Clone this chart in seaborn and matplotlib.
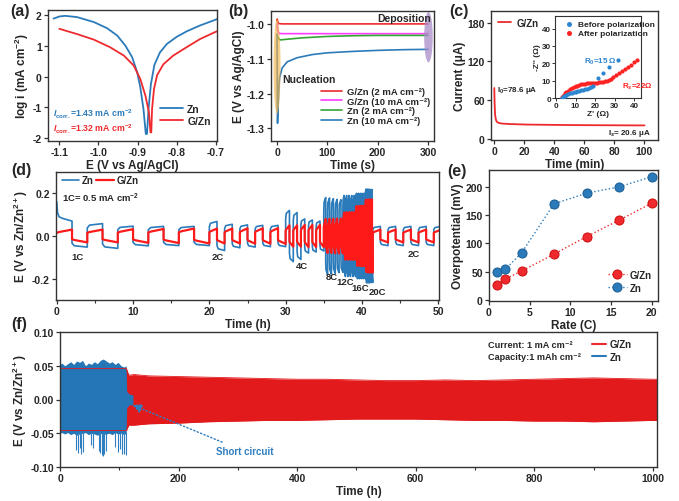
import numpy as np
import matplotlib
matplotlib.use('Agg')
import matplotlib.pyplot as plt
import seaborn as sns
from matplotlib.patches import Ellipse
from matplotlib.lines import Line2D
from matplotlib.ticker import AutoMinorLocator, FormatStrFormatter

sns.set_theme(style='ticks')
plt.rcParams['font.family'] = ['Liberation Sans', 'DejaVu Sans']
plt.rcParams['font.weight'] = 'bold'
plt.rcParams['axes.labelweight'] = 'bold'
plt.rcParams['axes.unicode_minus'] = False
plt.rcParams['mathtext.fontset'] = 'custom'
plt.rcParams['mathtext.rm'] = 'Liberation Sans:bold'
plt.rcParams['mathtext.it'] = 'Liberation Sans:bold:italic'
plt.rcParams['mathtext.bf'] = 'Liberation Sans:bold'

BLUE = '#2b7bba'
RED = '#ee2a2e'
RED_F = '#e31a1c'
PINK = '#ff3cff'
GREEN = '#33a633'

# ---------------- (a) Tafel ----------------
a_zn_E = [-1.115, -1.100, -1.085, -1.055, -1.012, -0.978, -0.952, -0.931, -0.914, -0.901,
          -0.893, -0.885, -0.879, -0.876, -0.872, -0.866, -0.857, -0.843, -0.825, -0.800,
          -0.774, -0.740, -0.706, -0.696]
a_zn_logi = [1.88, 1.95, 1.97, 1.93, 1.77, 1.57, 1.33, 1.00, 0.63, 0.14,
             -0.35, -1.05, -1.86, -1.86, -1.05, -0.25, 0.38, 0.78, 1.06, 1.29,
             1.47, 1.66, 1.82, 1.87]
a_gzn_E = [-1.100, -1.055, -1.012, -0.970, -0.935, -0.910, -0.893, -0.880, -0.871, -0.867,
           -0.865, -0.863, -0.858, -0.850, -0.834, -0.809, -0.775, -0.740, -0.706, -0.697]
a_gzn_logi = [1.55, 1.38, 1.20, 0.95, 0.68, 0.36, -0.08, -0.62, -1.16, -1.81,
              -1.81, -1.05, -0.40, 0.05, 0.40, 0.68, 0.95, 1.22, 1.42, 1.47]

# ---------------- (b) chronopotentiometry ----------------
b_gzn2_t = [0, 0.5, 1.5, 3, 10, 100, 200, 300]
b_gzn2_E = [-0.992, -0.986, -0.995, -0.999, -1.000, -1.000, -1.000, -1.000]
b_gzn10_t = [0, 1, 2, 4, 10, 100, 200, 300]
b_gzn10_E = [-1.000, -1.012, -1.022, -1.027, -1.028, -1.028, -1.028, -1.028]
b_zn2_t = [0, 1, 3, 6, 20, 50, 100, 150, 200, 300]
b_zn2_E = [-1.030, -1.036, -1.042, -1.046, -1.044, -1.040, -1.036, -1.034, -1.033, -1.033]
b_zn10_t = [0, 0.5, 1, 2, 3, 5, 10, 20, 40, 70, 100, 150, 200, 250, 300]
b_zn10_E = [-1.030, -1.200, -1.285, -1.240, -1.200, -1.155, -1.127, -1.109, -1.097, -1.088,
            -1.083, -1.079, -1.076, -1.074, -1.073]

# ---------------- (c) current-time + EIS ----------------
c_t = [0, 0.2, 0.5, 1, 1.5, 2, 3, 5, 10, 20, 30, 40, 50, 60, 70, 80, 90, 100]
c_I = [78.6, 55, 38, 30, 27, 25.5, 24.5, 23.5, 22.8, 22.0, 21.7, 21.4, 21.2, 21.0, 20.9, 20.8, 20.7, 20.6]
c_before_x = [3, 3.5, 4, 4.5, 5, 6, 7, 8, 9, 10, 11, 12, 13, 14, 15, 16, 17, 18, 19, 21.3, 24, 27.3, 31.5]
c_before_y = [0.2, 0.7, 1.1, 1.4, 1.7, 2.2, 2.6, 2.9, 3.2, 3.5, 3.8, 4.1, 4.4, 4.7, 5.0, 5.4, 5.8, 6.3, 6.9,
              11.5, 14.5, 18.0, 22.0]
c_after_x = [3, 3.5, 4, 4.5, 5, 6, 7, 8, 9, 10, 11, 12, 13, 14, 15, 16, 17, 18, 19, 20, 21, 22, 23, 24,
             25, 26, 27, 28, 29.3, 30.8, 32.3, 33.8, 35.3, 36.8, 38.3, 39.8, 41.2]
c_after_y = [0.3, 1.2, 2.0, 2.7, 3.3, 4.2, 5.0, 5.7, 6.3, 6.8, 7.2, 7.6, 7.9, 8.1, 8.3, 8.5, 8.6, 8.7, 8.8,
             8.8, 8.9, 9.0, 9.1, 9.3, 9.6, 10.0, 10.5, 11.2, 12.2, 13.3, 14.4, 15.6, 16.8, 18.0, 19.3,
             20.5, 21.8]

# ---------------- (d) rate performance ----------------
d_rates = [1, 2, 4, 8, 12, 16, 20, 2]
d_zn_peaks = [
    [0.052, 0.058, 0.046, 0.045, 0.045],
    [0.068, 0.055, 0.052, 0.050, 0.050],
    [0.120, 0.110, 0.080, 0.075, 0.070],
    [0.180, 0.178, 0.175, 0.172, 0.170],
    [0.190, 0.190, 0.190, 0.190, 0.190],
    [0.200, 0.200, 0.200, 0.200, 0.200],
    [0.220, 0.220, 0.220, 0.218, 0.218],
    [0.045, 0.045, 0.045, 0.045, 0.045],
]
d_gzn_peaks = [
    [0.030, 0.030, 0.032, 0.033, 0.035],
    [0.035, 0.035, 0.036, 0.036, 0.037],
    [0.050, 0.050, 0.052, 0.052, 0.052],
    [0.080, 0.080, 0.081, 0.082, 0.082],
    [0.110, 0.111, 0.112, 0.112, 0.112],
    [0.140, 0.140, 0.141, 0.141, 0.141],
    [0.170, 0.170, 0.171, 0.171, 0.171],
    [0.030, 0.030, 0.030, 0.030, 0.030],
]
d_zn_init_t = [0, 0.1, 0.3, 0.8, 1.4, 2.0]
d_zn_init_E = [0.16, 0.11, 0.09, 0.082, 0.076, 0.070]
d_label_text = ['1C', '2C', '4C', '8C', '12C', '16C', '20C', '2C']
d_label_t = [1.9, 20.3, 31.3, 35.2, 36.6, 38.6, 40.9, 46.0]
d_label_E = [-0.098, -0.098, -0.14, -0.19, -0.212, -0.24, -0.262, -0.08]

# ---------------- (e) overpotential vs rate ----------------
e_rate = [1, 2, 4, 8, 12, 16, 20]
e_gzn = [27, 37, 51, 81, 112, 141, 171]
e_zn = [50, 54, 83, 170, 189, 200, 218]

# ---------------- (f) long-term cycling envelopes ----------------
f_gzn_t = [0, 112, 116, 125, 150, 200, 250, 300, 350, 400, 450, 500, 550, 600, 650, 700, 750,
           800, 850, 900, 950, 1000, 1007]
f_gzn_hi = [0.046, 0.046, 0.036, 0.037, 0.035, 0.034, 0.033, 0.032, 0.031, 0.030, 0.030, 0.029,
            0.028, 0.028, 0.029, 0.028, 0.029, 0.030, 0.031, 0.032, 0.031, 0.030, 0.030]
f_gzn_lo = [-0.046, -0.046, -0.038, -0.038, -0.036, -0.035, -0.033, -0.032, -0.031, -0.031,
            -0.030, -0.029, -0.029, -0.029, -0.030, -0.031, -0.031, -0.032, -0.032, -0.033,
            -0.032, -0.031, -0.031]
f_zn_t = [0, 3, 8, 13, 18, 23, 28, 33, 38, 43, 48, 53, 58, 63, 68, 73, 78, 83, 88, 93, 98, 103,
          108, 111.5, 112.5, 117, 123]
f_zn_hi = [0.052, 0.054, 0.050, 0.053, 0.056, 0.052, 0.057, 0.055, 0.058, 0.050, 0.054, 0.052,
           0.056, 0.053, 0.058, 0.060, 0.057, 0.054, 0.056, 0.052, 0.055, 0.050, 0.048, 0.050,
           0.012, 0.008, 0.007]
f_zn_lo = [-0.050, -0.049, -0.051, -0.049, -0.052, -0.050, -0.053, -0.051, -0.050, -0.049,
           -0.052, -0.050, -0.051, -0.053, -0.050, -0.052, -0.051, -0.050, -0.052, -0.049,
           -0.051, -0.050, -0.052, -0.050, -0.012, -0.008, -0.008]
f_spike_t = [27, 30, 33, 36, 38, 53, 56, 65, 68, 71, 73, 75, 78, 93, 97, 101, 104, 108, 111]
f_spike_E = [-0.075, -0.079, -0.072, -0.080, -0.078, -0.068, -0.072, -0.076, -0.079, -0.082,
             -0.083, -0.080, -0.077, -0.070, -0.078, -0.074, -0.080, -0.081, -0.082]

# ======================================================================
W, H = 679, 502
fig = plt.figure(figsize=(W / 100, H / 100), dpi=100)
fig.patch.set_facecolor('white')

TICK = 7.5
LAB = 8.5
LEG = 6.8


def add_ax(l, t, r, b):
    ax = fig.add_axes([l / W, 1 - b / H, (r - l) / W, (b - t) / H])
    for s in ax.spines.values():
        s.set_color('#333333')
        s.set_linewidth(1.0)
    ax.tick_params(direction='out', length=3, width=0.9, labelsize=TICK, pad=1.5, color='#333333')
    return ax


def bold_ticks(ax, size=TICK):
    for lab in ax.get_xticklabels() + ax.get_yticklabels():
        lab.set_fontweight('bold')
        lab.set_fontsize(size)


def line(ax, x, y, color, lw=1.3, label=None, **kw):
    sns.lineplot(x=x, y=y, ax=ax, sort=False, estimator=None, color=color, lw=lw, label=label, **kw)


# ---------------- (a) ----------------
axa = add_ax(48, 11, 217, 142)
line(axa, a_zn_E, a_zn_logi, BLUE, label='Zn')
line(axa, a_gzn_E, a_gzn_logi, RED, label='G/Zn')
axa.set_xlim(-1.129, -0.697)
axa.set_ylim(-2.09, 2.16)
axa.set_xticks([-1.1, -1.0, -0.9, -0.8, -0.7])
axa.xaxis.set_major_formatter(FormatStrFormatter('%.1f'))
axa.set_yticks([-2, -1, 0, 1, 2])
axa.set_xlabel('E (V vs Ag/AgCl)', fontsize=LAB, labelpad=1)
axa.set_ylabel('log i (mA cm$^{-2}$)', fontsize=LAB, labelpad=1)
axa.text(-1.117, -1.20, r'$\mathit{I}_{\mathrm{corr.}}$=1.43 mA cm$^{-2}$', color=BLUE,
         fontsize=6.3, va='center')
axa.text(-1.117, -1.68, r'$\mathit{I}_{\mathrm{corr.}}$=1.32 mA cm$^{-2}$', color=RED,
         fontsize=6.3, va='center')
axa.legend(loc='lower right', bbox_to_anchor=(1.0, 0.07), frameon=False, fontsize=7.5,
           handlelength=2.2, handletextpad=0.4, labelspacing=0.15, borderaxespad=0.2)
bold_ticks(axa)

# ---------------- (b) ----------------
axb = add_ax(271, 12, 434, 142)
line(axb, b_gzn2_t, b_gzn2_E, RED, lw=1.2, label='G/Zn (2 mA cm⁻²)')
line(axb, b_gzn10_t, b_gzn10_E, PINK, lw=1.2, label='G/Zn (10 mA cm⁻²)')
line(axb, b_zn2_t, b_zn2_E, GREEN, lw=1.2, label='Zn (2 mA cm⁻²)')
line(axb, b_zn10_t, b_zn10_E, BLUE, lw=1.2, label='Zn (10 mA cm⁻²)')
axb.add_patch(Ellipse((0, -1.122), 14, 0.272, facecolor='#f2b34a', alpha=0.65, lw=0, zorder=3))
axb.add_patch(Ellipse((301, -1.038), 17, 0.145, facecolor='#a98bc9', alpha=0.75, lw=0, zorder=3))
axb.set_xlim(-12, 312)
axb.set_ylim(-1.336, -0.963)
axb.set_xticks([0, 100, 200, 300])
axb.set_yticks([-1.3, -1.2, -1.1, -1.0])
axb.yaxis.set_major_formatter(FormatStrFormatter('%.1f'))
axb.set_xlabel('Time (s)', fontsize=LAB, labelpad=1)
axb.set_ylabel('E (V vs Ag/AgCl)', fontsize=LAB, labelpad=1)
axb.text(252, -0.982, 'Deposition', fontsize=7.5, ha='center', va='center')
axb.text(64, -1.158, 'Nucleation', fontsize=7.5, ha='center', va='center')
axb.legend(loc='lower right', bbox_to_anchor=(1.01, 0.08), frameon=False, fontsize=LEG,
           handlelength=2.2, handletextpad=0.5, labelspacing=0.06, borderaxespad=0.2)
bold_ticks(axb)

# ---------------- (c) ----------------
axc = add_ax(491, 12, 658, 141)
line(axc, c_t, c_I, RED, lw=1.3, label='G/Zn')
axc.set_xlim(-2.2, 109)
axc.set_ylim(-2, 198)
axc.set_xticks([0, 20, 40, 60, 80, 100])
axc.set_yticks([0, 60, 120, 180])
axc.set_xlabel('Time (min)', fontsize=LAB, labelpad=1)
axc.set_ylabel('Current (μA)', fontsize=LAB, labelpad=1)
axc.text(2, 77, 'I$_0$=78.6 μA', fontsize=5.8, va='center')
axc.text(104, 9, 'I$_s$= 20.6 μA', fontsize=5.8, va='center', ha='right')
axc.legend(loc='upper left', bbox_to_anchor=(0.0, 1.0), frameon=False, fontsize=7,
           handlelength=1.4, handletextpad=0.5, borderaxespad=0.3)
bold_ticks(axc)

axi = fig.add_axes([555 / W, 1 - 99 / H, 86 / W, 82 / H])
for s in axi.spines.values():
    s.set_color('#333333')
    s.set_linewidth(0.8)
sns.scatterplot(x=c_before_x, y=c_before_y, ax=axi, color='#2f86d0', s=9, linewidth=0,
                label='Before polarization', zorder=3)
sns.scatterplot(x=c_after_x, y=c_after_y, ax=axi, color='#ff2222', s=9, linewidth=0,
                label='After polarization', zorder=2)
axi.set_xlim(-0.5, 43.5)
axi.set_ylim(0, 47.3)
axi.set_xticks([0, 10, 20, 30, 40])
axi.set_yticks([0, 10, 20, 30, 40])
axi.tick_params(direction='out', length=2, width=0.7, labelsize=5.8, pad=1, color='#333333')
axi.set_xlabel("Z' (Ω)", fontsize=6, labelpad=0.5)
axi.set_ylabel("-Z'' (Ω)", fontsize=6, labelpad=0.5)
axi.text(14.2, 21.2, 'R$_0$=15 Ω', color='#2f86d0', fontsize=5.8, va='center')
axi.text(34.0, 6.9, 'R$_s$=22Ω', color='#ff2222', fontsize=5.8, va='center')
axi.legend(loc='upper left', bbox_to_anchor=(0.02, 1.0), frameon=False, fontsize=6,
           handletextpad=0.1, labelspacing=0.15, borderaxespad=0.1, markerscale=1.2)
bold_ticks(axi, 5.8)


# ---------------- (d) ----------------
def square_wave(rates, peaks, start_frac, knee_frac, init_t=None, init_E=None):
    ts, vs = [], []
    t = 0.0
    first = True
    for rate, cyc in zip(rates, peaks):
        half = 2.0 / rate
        for p in cyc:
            for sign in (1, -1):
                t0, t1 = t, t + half
                if first and init_t is not None:
                    ts += list(init_t)
                    vs += list(init_E)
                else:
                    ts += [t0, t0 + 0.15 * half, t1]
                    vs += [sign * start_frac * p, sign * knee_frac * p, sign * p]
                first = False
                t = t1
    ts = np.array(ts)
    vs = np.array(vs)
    keep = ts <= 50.5
    return ts[keep], vs[keep]


axd = add_ax(56, 173, 439, 301)
zt, zv = square_wave(d_rates, d_zn_peaks, 0.65, 0.88, d_zn_init_t, d_zn_init_E)
gt, gv = square_wave(d_rates, d_gzn_peaks, 0.5, 0.62)
line(axd, zt, zv, BLUE, lw=1.2, label='Zn')
line(axd, gt, gv, '#ff1a1a', lw=1.6, label='G/Zn')
# dense high-rate cycling merges into a solid band
seg_start = 0.0
for rate, cyc in zip(d_rates, d_gzn_peaks):
    seg_end = seg_start + len(cyc) * 4.0 / rate
    if rate >= 8:
        p_in = 0.6 * min(cyc)
        axd.fill_between([seg_start, seg_end], [-p_in, -p_in], [p_in, p_in],
                         color='#ff1a1a', lw=0, zorder=2.5)
    seg_start = seg_end
axd.set_xlim(-0.1, 50.1)
axd.set_ylim(-0.3, 0.3)
axd.set_xticks([0, 10, 20, 30, 40, 50])
axd.xaxis.set_minor_locator(AutoMinorLocator(2))
axd.tick_params(which='minor', direction='out', length=2, width=0.8, color='#333333')
axd.set_yticks([-0.2, 0.0, 0.2])
axd.yaxis.set_major_formatter(FormatStrFormatter('%.1f'))
axd.set_xlabel('Time (h)', fontsize=LAB, labelpad=1)
axd.set_ylabel('E (V vs Zn/Zn$^{2+}$)', fontsize=LAB, labelpad=1)
for txt, tx, ty in zip(d_label_text, d_label_t, d_label_E):
    axd.text(tx, ty, txt, fontsize=6.8, ha='left', va='center')
axd.text(0.016, 0.80, '1C= 0.5 mA cm$^{-2}$', transform=axd.transAxes, fontsize=6.8, va='center')
axd.legend(loc='upper left', bbox_to_anchor=(0.0, 1.02), frameon=False, fontsize=7, ncol=2,
           handlelength=1.8, handletextpad=0.3, columnspacing=0.2, borderaxespad=0.2)
bold_ticks(axd)

# ---------------- (e) ----------------
axe = add_ax(489, 171, 658, 302)
sns.lineplot(x=e_rate, y=e_gzn, ax=axe, color=RED, lw=1.0, linestyle=':', marker='o',
             markersize=6.5, markeredgecolor='#d01010', label='G/Zn')
sns.lineplot(x=e_rate, y=e_zn, ax=axe, color=BLUE, lw=1.0, linestyle=':', marker='o',
             markersize=6.5, markeredgecolor='#1a5f96', label='Zn')
axe.set_xlim(0, 20.8)
axe.set_ylim(-2, 230)
axe.set_xticks([0, 5, 10, 15, 20])
axe.set_yticks([0, 50, 100, 150, 200])
axe.set_xlabel('Rate (C)', fontsize=LAB, labelpad=1)
axe.set_ylabel('Overpotential (mV)', fontsize=LAB, labelpad=1)
axe.legend(loc='lower right', bbox_to_anchor=(1.0, 0.02), frameon=False, fontsize=7,
           handlelength=2.0, handletextpad=0.3, labelspacing=0.3, borderaxespad=0.2)
bold_ticks(axe)

# ---------------- (f) ----------------
axf = add_ax(60, 333, 657, 468)
axf.fill_between(f_gzn_t, f_gzn_lo, f_gzn_hi, color=RED_F, lw=0)
line(axf, f_gzn_t, f_gzn_hi, RED_F, lw=0.6)
line(axf, f_gzn_t, f_gzn_lo, RED_F, lw=0.6)
axf.fill_between(f_zn_t, f_zn_lo, f_zn_hi, color='#2476b6', lw=0)
axf.vlines(f_spike_t, [-0.048] * len(f_spike_t), f_spike_E, color='#2f7fc0', lw=0.8)
axf.annotate('Short circuit', xy=(122, -0.008), xytext=(263, -0.077), fontsize=7,
             color='#2f7fc0', va='center', ha='left',
             arrowprops=dict(arrowstyle='-|>', color='#2f7fc0', lw=1.0, linestyle=':',
                             mutation_scale=14, shrinkA=2, shrinkB=0))
axf.set_xlim(0, 1007)
axf.set_ylim(-0.1, 0.1)
axf.set_xticks([0, 200, 400, 600, 800, 1000])
axf.xaxis.set_minor_locator(AutoMinorLocator(2))
axf.tick_params(which='minor', direction='out', length=2, width=0.8, color='#333333')
axf.set_yticks([-0.10, -0.05, 0.0, 0.05, 0.10])
axf.yaxis.set_major_formatter(FormatStrFormatter('%.2f'))
axf.set_xlabel('Time (h)', fontsize=LAB, labelpad=1)
axf.set_ylabel('E (V vs Zn/Zn$^{2+}$)', fontsize=LAB, labelpad=1)
axf.text(0.717, 0.91, 'Current: 1 mA cm⁻²', transform=axf.transAxes, fontsize=6.6, va='center')
axf.text(0.717, 0.815, 'Capacity:1 mAh cm⁻²', transform=axf.transAxes, fontsize=6.6, va='center')
handles = [Line2D([], [], color=RED, lw=1.5), Line2D([], [], color=BLUE, lw=1.5)]
axf.legend(handles, ['G/Zn', 'Zn'], loc='center left', bbox_to_anchor=(0.885, 0.862),
           frameon=False, fontsize=7, handlelength=1.4, handletextpad=0.4, labelspacing=0.25,
           borderaxespad=0)
bold_ticks(axf)

# ---------------- panel labels ----------------
for lab, x, y in [('(a)', 10, 4), ('(b)', 228, 4), ('(c)', 449, 4), ('(d)', 11, 163),
                  ('(e)', 447, 164), ('(f)', 11, 317)]:
    fig.text(x / W, 1 - y / H, lab, fontsize=11.5, fontweight='bold', va='top', ha='left')

fig.savefig('out.png', dpi=100, facecolor='white')
